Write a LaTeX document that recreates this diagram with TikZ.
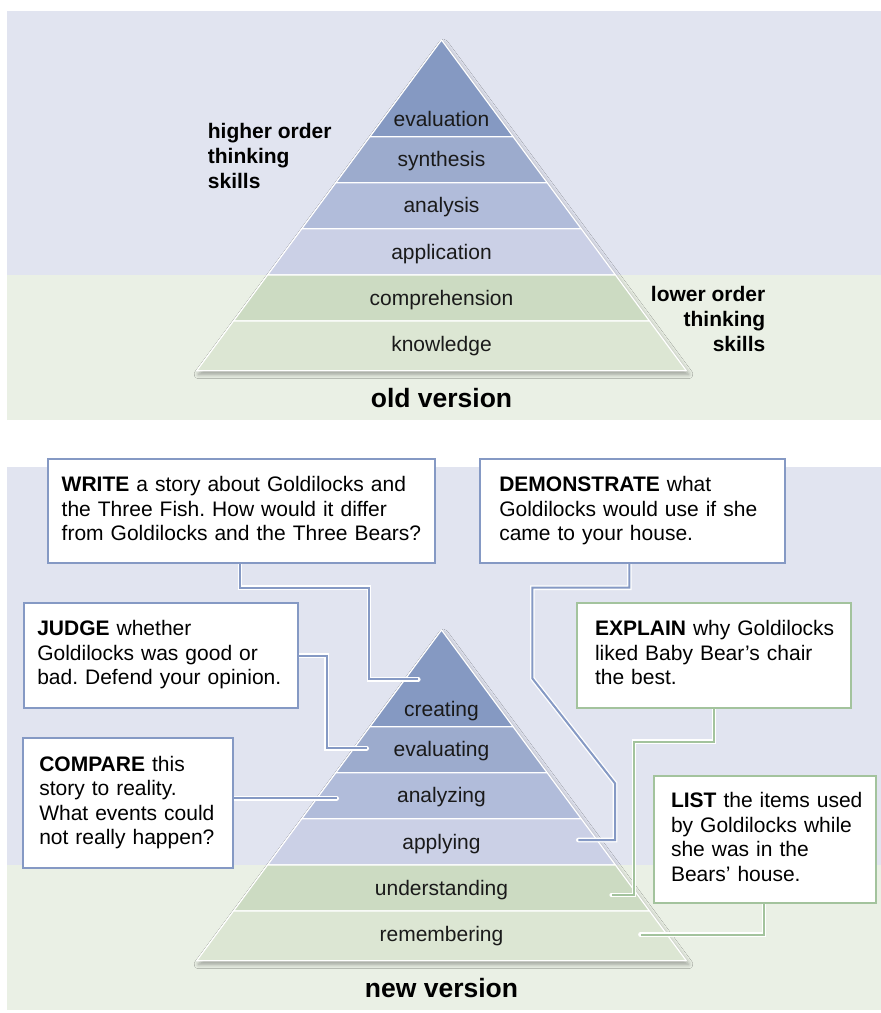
\documentclass[tikz,border=0pt]{standalone}
\usepackage{fontspec}
\setmainfont{Liberation Sans}
\usetikzlibrary{calc,shadows.blur}
\definecolor{bgLav}{HTML}{E1E4F0}
\definecolor{bgGrn}{HTML}{EAF0E5}
\definecolor{bandA}{HTML}{8599C2}
\definecolor{bandB}{HTML}{9CABCD}
\definecolor{bandC}{HTML}{B1BCDA}
\definecolor{bandD}{HTML}{CBD0E6}
\definecolor{bandE}{HTML}{CCDBC2}
\definecolor{bandF}{HTML}{DCE6D3}
\definecolor{boxBlue}{HTML}{8599C4}
\definecolor{boxGreen}{HTML}{A3C39D}
\definecolor{textDark}{HTML}{1A1A1A}
\frenchspacing
\newcommand\boxfont{\fontsize{21}{24.5}\selectfont}
\newcommand\plabfont{\fontsize{21}{24.5}\selectfont}
\newcommand\sidefont{\fontsize{21}{25}\selectfont\bfseries}
\newcommand\titfont{\fontsize{26.5}{30}\selectfont\bfseries}
\newcommand\pyrshape{%
  \path[fill=white, blur shadow={shadow xshift=2pt, shadow yshift=-3.5pt, shadow blur radius=4.5pt, shadow opacity=35}]
    (441.5,40) -- (686.31,370.7) -- (196.69,370.7) -- cycle;
  \path[band, fill=bandA] (441.5,40) -- (513.09,136.7) -- (369.91,136.7) -- cycle;
  \path[band, fill=bandB] (369.91,136.7) -- (513.09,136.7) -- (547.14,182.7) -- (335.86,182.7) -- cycle;
  \path[band, fill=bandC] (335.86,182.7) -- (547.14,182.7) -- (581.19,228.7) -- (301.81,228.7) -- cycle;
  \path[band, fill=bandD] (301.81,228.7) -- (581.19,228.7) -- (615.47,275) -- (267.53,275) -- cycle;
  \path[band, fill=bandE] (267.53,275) -- (615.47,275) -- (649.52,321) -- (233.48,321) -- cycle;
  \path[band, fill=bandF] (233.48,321) -- (649.52,321) -- (686.31,370.7) -- (196.69,370.7) -- cycle;
}
\newcommand\connpath[2]{%
  \draw[casing] #2;
  \draw[line width=2pt, draw=#1] #2;
}
\pgfdeclarelayer{back}
\pgfdeclarelayer{mid}
\pgfsetlayers{back,mid,main}
\begin{document}
\begin{tikzpicture}[x=1pt,y=-1pt,
  band/.style={draw=white, line width=1.2pt, line join=round},
  plabel/.style={anchor=base, font=\plabfont, text=textDark, inner sep=0pt},
  sidel/.style={font=\sidefont, text=black, inner sep=0pt},
  titl/.style={anchor=base, font=\titfont, text=black, inner sep=0pt},
  qbox/.style={draw=boxBlue, line width=2pt, fill=white, anchor=north west, align=left,
     inner ysep=0pt, outer sep=0pt, font=\boxfont, text=black},
  gbox/.style={qbox, draw=boxGreen},
  casing/.style={line width=4.6pt, draw=white, line cap=round, line join=miter}]
\useasboundingbox (0,0) rectangle (881,1013);
\begin{pgfonlayer}{back}
  \fill[white] (0,0) rectangle (881,1013);
  \fill[bgLav] (6.7,11) rectangle (881,275);
  \fill[bgGrn] (6.7,275) rectangle (881,420);
  \fill[bgLav] (6.7,466.7) rectangle (881,865);
  \fill[bgGrn] (6.7,865) rectangle (881,1010);
  \pyrshape
  \begin{scope}[shift={(0,590)}]
    \pyrshape
  \end{scope}
\end{pgfonlayer}

% old version labels
\node[plabel] (o1) at (441.5,126) {evaluation};
\node[plabel] (o2) at (441.5,166.7) {synthesis};
\node[plabel] (o3) at (441.5,212.7) {analysis};
\node[plabel] (o4) at (441.5,259.3) {application};
\node[plabel] (o5) at (441.5,305) {comprehension};
\node[plabel] (o6) at (441.5,351.7) {knowledge};
\node[sidel, anchor=base west] (h1) at (207.7,138.3) {higher order};
\node[sidel, anchor=base west] (h2) at (207.7,163.3) {thinking};
\node[sidel, anchor=base west] (h3) at (207.7,188.3) {skills};
\node[sidel, anchor=base east] (l1) at (765.5,301.7) {lower order};
\node[sidel, anchor=base east] (l2) at (765.5,326.7) {thinking};
\node[sidel, anchor=base east] (l3) at (765.5,351.7) {skills};
\node[titl] (oldt) at (441.5,407.7) {old version};

% new version labels
\node[plabel] (n1) at (441.5,716) {creating};
\node[plabel] (n2) at (441.5,756.7) {evaluating};
\node[plabel] (n3) at (441.5,802.7) {analyzing};
\node[plabel] (n4) at (441.5,849.3) {applying};
\node[plabel] (n5) at (441.5,895) {understanding};
\node[plabel] (n6) at (441.5,941.7) {remembering};
\node[titl] (newt) at (441.5,997.7) {new version};

% boxes
\node[qbox, inner xsep=13.4pt, text width=359.9pt, minimum width=386.7pt, minimum height=104.3pt] (wr) at (48.3,459)
  {\mbox{\strut\textbf{WRITE} a story about Goldilocks and}\\\mbox{\strut the Three Fish. How would it differ}\\\mbox{\strut from Goldilocks and the Three Bears?}};
\node[qbox, inner xsep=19.3pt, text width=266.4pt, minimum width=305pt, minimum height=104.3pt] (dm) at (480,459)
  {\mbox{\strut\textbf{DEMONSTRATE} what}\\\mbox{\strut Goldilocks would use if she}\\\mbox{\strut came to your house.}};
\node[qbox, inner xsep=13pt, text width=248pt, minimum width=274pt, minimum height=105.6pt] (jd) at (24.3,602.7)
  {\mbox{\strut\textbf{JUDGE} whether}\\\mbox{\strut Goldilocks was good or}\\\mbox{\strut bad. Defend your opinion.}};
\node[gbox, inner xsep=17.7pt, text width=238pt, minimum width=273.4pt, minimum height=105.6pt] (ex) at (577.3,602.7)
  {\mbox{\strut\textbf{EXPLAIN} why Goldilocks}\\\mbox{\strut liked Baby Bear’s chair}\\\mbox{\strut the best.}};
\node[qbox, inner xsep=16pt, text width=177.4pt, minimum width=209.4pt, minimum height=129.7pt] (cp) at (23.3,738.3)
  {\mbox{\strut\textbf{COMPARE} this}\\\mbox{\strut story to reality.}\\\mbox{\strut What events could}\\\mbox{\strut not really happen?}};
\node[gbox, inner xsep=16.7pt, text width=188.3pt, minimum width=221.7pt, minimum height=127pt] (ls) at (654.3,776)
  {\mbox{\strut\textbf{LIST} the items used}\\\mbox{\strut by Goldilocks while}\\\mbox{\strut she was in the}\\\mbox{\strut Bears’ house.}};

% connectors
\coordinate (wrS) at ($(wr.south west)+(191.7,0)$);
\coordinate (wrE) at (418.3,679.3);
\coordinate (dmS) at ($(dm.south west)+(149.3,0)$);
\coordinate (dmE) at (578.3,840);
\coordinate (jdS) at ($(jd.north east)+(0,53)$);
\coordinate (jdE) at (366.7,748.3);
\coordinate (cpS) at ($(cp.north east)+(0,60)$);
\coordinate (cpE) at (336.7,798.3);
\coordinate (exS) at ($(ex.south west)+(136.7,0)$);
\coordinate (exE) at (611.7,895);
\coordinate (lsS) at ($(ls.south west)+(109.7,0)$);
\coordinate (lsE) at (640.5,934.5);
\begin{pgfonlayer}{mid}
  \connpath{boxBlue}{(wrS) -- ++(0,24.4) -| (369,679.3) -- (wrE)}
  \connpath{boxBlue}{(dmS) -- ++(0,24.4) -| (532.3,678.3) -- (615,783.3) -- (615,840) -- (dmE)}
  \connpath{boxBlue}{(jdS) -| (326.5,748.3) -- (jdE)}
  \connpath{boxBlue}{(cpS) -- (cpE)}
  \connpath{boxGreen}{(exS) -- ++(0,33.4) -| (634,895) -- (exE)}
  \connpath{boxGreen}{(lsS) -- ++(0,31.5) -- (lsE)}
\end{pgfonlayer}
\end{tikzpicture}
\end{document}
